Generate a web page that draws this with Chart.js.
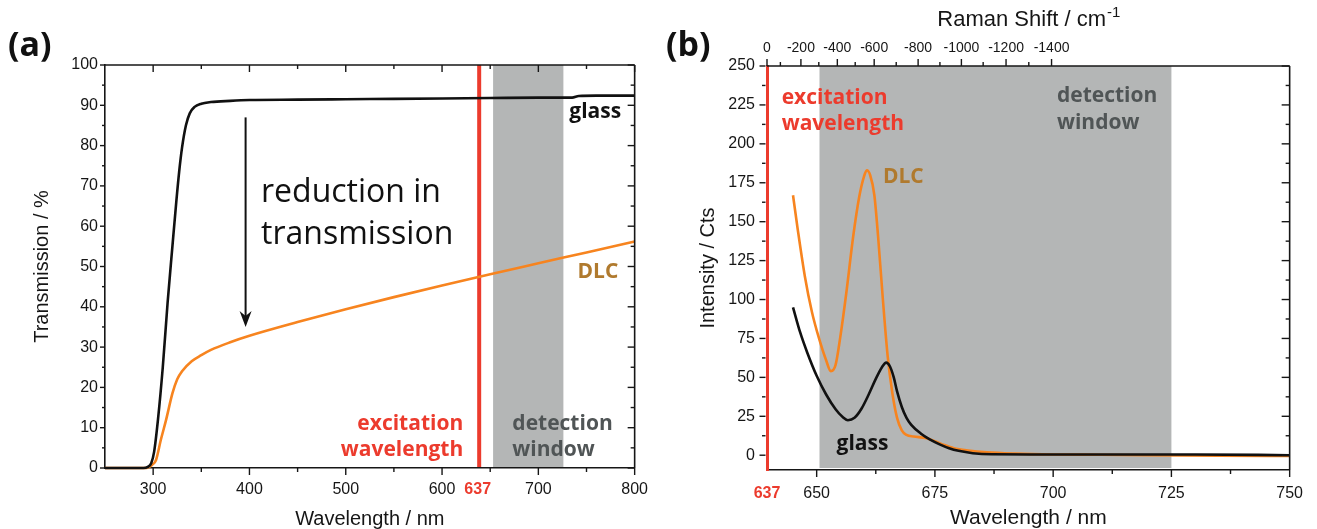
<!DOCTYPE html>
<html><head><meta charset="utf-8">
<script src="https://cdn.jsdelivr.net/npm/chart.js@4.4.1/dist/chart.umd.min.js"></script>
<style>
html,body{margin:0;padding:0;background:#fff;}
#wrap{position:relative;width:1317px;height:529px;overflow:hidden;background:#fff;}
.panel{position:absolute;top:0;height:529px;}
#pa{left:0;width:660px;}
#pb{left:660px;width:657px;}
</style></head><body>
<div id="wrap"><div class="panel" id="pa"><canvas id="ca"></canvas></div><div class="panel" id="pb"><canvas id="cb"></canvas></div></div>
<script>
// ---------- Panel (a): transmission spectra ----------
const aGlassWl = [250, 290, 294, 298, 301, 305, 310, 315, 320, 324, 327, 330, 334, 338, 343, 350, 360, 380, 400, 450, 500, 550, 600, 650, 700, 735, 742, 760, 800];
const aGlassT  = [0, 0, 0.2, 1.2, 4, 12, 25, 41, 55, 66, 73.5, 79.5, 85, 88, 89.6, 90.4, 90.8, 91.1, 91.3, 91.4, 91.5, 91.6, 91.7, 91.8, 91.9, 91.9, 92.3, 92.4, 92.4];
const aDlcWl   = [250, 292, 295, 299, 303, 308, 313.5, 320, 325, 330, 340, 350, 360, 380, 400, 450, 500, 550, 600, 650, 700, 750, 800];
const aDlcT    = [0, 0, 0.2, 0.8, 2, 7, 12, 18.5, 22, 24, 26.5, 28, 29.3, 31.2, 32.8, 36.2, 39.4, 42.4, 45.3, 48.1, 50.8, 53.5, 56.2];
const aXTicks  = [300, 400, 500, 600, 637, 700, 800];
const aXMinor  = [350, 450, 550, 650, 750];
const aYTicks  = [0, 10, 20, 30, 40, 50, 60, 70, 80, 90, 100];
const aYMinor  = [5, 15, 25, 35, 45, 55, 65, 75, 85, 95];
const aExcitation = 637;
const aWindow = [653, 726];

// ---------- Panel (b): Raman spectra ----------
const bGlassWl = [645, 646.5, 648, 650, 652, 654, 655.5, 656.6, 658, 659.5, 661, 662.5, 663.8, 664.7, 665.5, 666.3, 667, 668, 669, 670, 672, 674, 676, 678, 680, 683, 687, 695, 710, 730, 750];
const bGlassI  = [95, 79, 66, 51, 39, 29.5, 24.5, 22.5, 24, 30, 39, 49, 56.5, 59.5, 57, 50, 41, 31, 24, 19.5, 14, 10, 7, 4.5, 2.8, 1.3, 0.6, 0.5, 0.5, 0.5, 0];
const bDlcWl   = [645, 646, 647.5, 649, 650.5, 652, 653, 654, 655, 656.3, 657.7, 659, 660, 660.6, 661.3, 662.2, 663, 664, 665, 666, 667, 668, 669, 670.5, 673, 675, 677, 679, 682, 686, 692, 700, 710, 720, 735, 750];
const bDlcI    = [167, 145, 115, 92, 75, 61, 54, 58, 76, 105, 140, 166, 179, 183, 180, 167, 140, 100, 64, 40, 24, 16, 13, 12, 11, 9, 6.5, 4.5, 3, 1.8, 1.0, 0.5, 0.3, 0, -0.3, -0.5];
const bXTickValues = [639.5, 650, 675, 700, 725, 750];
const bXTickLabels = ['637', '650', '675', '700', '725', '750'];
const bXMinor  = [662.5, 687.5, 712.5, 737.5];
const bYTicks  = [0, 25, 50, 75, 100, 125, 150, 175, 200, 225, 250];
const bYMinor  = [12.5, 37.5, 62.5, 87.5, 112.5, 137.5, 162.5, 187.5, 212.5, 237.5];
const ramanLabels = ['0', '-200', '-400', '-600', '-800', '-1000', '-1200', '-1400'];
const ramanLabelWl = [639.5, 646.67, 654.37, 662.16, 671.45, 680.6, 690.04, 699.66];
const ramanMinorWl = [642.33, 650.45, 658.15, 666.82, 676.06, 685.2, 694.85];
const bWindow = [650.6, 725];

// ---------- styling ----------
const FT = "'Liberation Sans', Arial, Helvetica, sans-serif";
const FA = "'Open Sans', 'Noto Sans', sans-serif";
const RED = '#ec3b2d';
const BAND = '#b4b6b6';
const ORANGE = '#f7841f';
const DLC_TXT = '#b07a2e';
const DET_TXT = '#505556';
const INK = '#161616';

function seg(ctx, x1, y1, x2, y2) { ctx.beginPath(); ctx.moveTo(x1, y1); ctx.lineTo(x2, y2); ctx.stroke(); }
function xt(ctx, sc, vals, y, len) { vals.forEach(v => { const p = sc.getPixelForValue(v); seg(ctx, p, y, p, y + len); }); }
function yt(ctx, sc, vals, x, len) { vals.forEach(v => { const p = sc.getPixelForValue(v); seg(ctx, x, p, x + len, p); }); }
function txt(ctx, s, x, y, font, color, align) {
  ctx.font = font; ctx.fillStyle = color; ctx.textAlign = align || 'left'; ctx.textBaseline = 'middle';
  ctx.fillText(s, x, y);
}
function pts(xs, ys) { return xs.map((x, i) => ({ x: x, y: ys[i] })); }

const commonDs = { pointRadius: 0, borderWidth: 2.6, fill: false, cubicInterpolationMode: 'monotone', clip: 3 };

// ---------- Chart (a) ----------
const plugA = {
  id: 'plugA',
  beforeDraw(chart) {
    const { ctx, chartArea: a, scales: { x, y } } = chart;
    ctx.save();
    ctx.fillStyle = BAND;
    const x1 = x.getPixelForValue(aWindow[0]), x2 = x.getPixelForValue(aWindow[1]);
    ctx.fillRect(x1, a.top, x2 - x1, a.bottom - a.top);
    ctx.strokeStyle = RED; ctx.lineWidth = 4;
    const xe = x.getPixelForValue(aExcitation) + 1.5;
    seg(ctx, xe, a.top, xe, a.bottom);
    ctx.restore();
  },
  afterDraw(chart) {
    const { ctx, chartArea: a, scales: { x, y } } = chart;
    ctx.save();
    ctx.strokeStyle = INK; ctx.lineWidth = 1.6;
    seg(ctx, a.left, a.top, a.right, a.top);
    seg(ctx, a.right, a.top, a.right, a.bottom);
    ctx.lineWidth = 1.4;
    const major = aXTicks.filter(v => v !== 637);
    xt(ctx, x, major, a.bottom, 7); xt(ctx, x, aXMinor, a.bottom, 4);
    xt(ctx, x, major, a.top, 7); xt(ctx, x, aXMinor, a.top, 4);
    yt(ctx, y, aYTicks, a.left, -5); yt(ctx, y, aYMinor, a.left, -3);
    yt(ctx, y, aYTicks, a.right, -7); yt(ctx, y, aYMinor, a.right, -4);
    // arrow
    const ax = x.getPixelForValue(396), ay1 = y.getPixelForValue(87), ay2 = y.getPixelForValue(35);
    ctx.lineWidth = 2; ctx.strokeStyle = '#111';
    seg(ctx, ax, ay1, ax, ay2 - 8);
    ctx.fillStyle = '#111';
    ctx.beginPath(); ctx.moveTo(ax, ay2); ctx.lineTo(ax - 6, ay2 - 16); ctx.lineTo(ax, ay2 - 11); ctx.lineTo(ax + 6, ay2 - 16); ctx.closePath(); ctx.fill();
    // texts
    const fb = "bold 21px " + FA;
    txt(ctx, 'reduction in', x.getPixelForValue(412), y.getPixelForValue(68.3), "32px " + FA, '#111');
    txt(ctx, 'transmission', x.getPixelForValue(412), y.getPixelForValue(57.8), "32px " + FA, '#111');
    txt(ctx, 'glass', x.getPixelForValue(786), y.getPixelForValue(88.3), fb, '#111', 'right');
    txt(ctx, 'DLC', x.getPixelForValue(783), y.getPixelForValue(48.6), fb, DLC_TXT, 'right');
    txt(ctx, 'excitation', x.getPixelForValue(622), y.getPixelForValue(10.9), fb, RED, 'right');
    txt(ctx, 'wavelength', x.getPixelForValue(622), y.getPixelForValue(4.4), fb, RED, 'right');
    txt(ctx, 'detection', x.getPixelForValue(673), y.getPixelForValue(10.9), fb, DET_TXT, 'left');
    txt(ctx, 'window', x.getPixelForValue(673), y.getPixelForValue(4.4), fb, DET_TXT, 'left');
    ctx.textBaseline = 'alphabetic'; ctx.textAlign = 'left';
    ctx.font = "bold 34px " + FA; ctx.fillStyle = '#111';
    ctx.fillText('(a)', 8, 56);
    ctx.restore();
  }
};

new Chart(document.getElementById('ca'), {
  type: 'line',
  data: { datasets: [
    Object.assign({ label: 'glass', data: pts(aGlassWl, aGlassT), borderColor: '#111' }, commonDs),
    Object.assign({ label: 'DLC', data: pts(aDlcWl, aDlcT), borderColor: ORANGE }, commonDs)
  ] },
  options: {
    responsive: true, maintainAspectRatio: false, animation: false,
    layout: { padding: { left: 32, right: 21, top: 65, bottom: 0 } },
    plugins: { legend: { display: false }, tooltip: { enabled: false } },
    scales: {
      x: {
        type: 'linear', min: 250, max: 800,
        afterBuildTicks: s => { s.ticks = aXTicks.map(v => ({ value: v })); },
        afterFit: s => { s.height = 61; },
        grid: { display: false, drawTicks: false },
        border: { display: true, color: INK, width: 1.6 },
        ticks: {
          autoSkip: false, maxRotation: 0, padding: 12,
          color: c => c.tick && c.tick.value === 637 ? RED : INK,
          font: c => ({ family: FT, size: 16, weight: (c.tick && c.tick.value === 637) ? 'bold' : 'normal' })
        },
        title: { display: true, text: 'Wavelength / nm', color: INK, font: { family: FT, size: 20, lineHeight: 1 }, padding: { top: 0, bottom: 0 } }
      },
      y: {
        type: 'linear', min: 0, max: 100,
        afterBuildTicks: s => { s.ticks = aYTicks.map(v => ({ value: v })); },
        afterFit: s => { s.width = 73; },
        grid: { display: false, drawTicks: false },
        border: { display: true, color: INK, width: 1.6 },
        ticks: { padding: 7, color: INK, font: { family: FT, size: 16 } },
        title: { display: true, text: 'Transmission / %', color: INK, font: { family: FT, size: 20, lineHeight: 1 }, padding: { top: 0, bottom: 0 } }
      }
    }
  },
  plugins: [plugA]
});

// ---------- Chart (b) ----------
const plugB = {
  id: 'plugB',
  beforeDraw(chart) {
    const { ctx, chartArea: a, scales: { x, y } } = chart;
    ctx.save();
    ctx.fillStyle = BAND;
    const x1 = x.getPixelForValue(bWindow[0]), x2 = x.getPixelForValue(bWindow[1]);
    ctx.fillRect(x1, a.top, x2 - x1, a.bottom - a.top - 2);
    ctx.restore();
  },
  afterDraw(chart) {
    const { ctx, chartArea: a, scales: { x, y } } = chart;
    ctx.save();
    ctx.strokeStyle = INK; ctx.lineWidth = 1.6;
    seg(ctx, a.left, a.top, a.right, a.top);
    seg(ctx, a.right, a.top, a.right, a.bottom);
    ctx.lineWidth = 1.4;
    const major = bXTickValues.slice(1);
    xt(ctx, x, major, a.bottom, 7); xt(ctx, x, bXMinor, a.bottom, 4);
    yt(ctx, y, bYTicks, a.left - 1.5, -6); yt(ctx, y, bYMinor, a.left - 1.5, -3.5);
    yt(ctx, y, bYTicks, a.right, -8); yt(ctx, y, bYMinor, a.right, -4);
    // Raman shift axis on top
    xt(ctx, x, ramanLabelWl, a.top, -7); xt(ctx, x, ramanMinorWl, a.top, -4);
    ramanLabels.forEach((s, i) => {
      txt(ctx, s, x.getPixelForValue(ramanLabelWl[i]), a.top - 18, "14px " + FT, INK, 'center');
    });
    // title with superscript
    const cx = (a.left + a.right) / 2;
    const main = 'Raman Shift / cm';
    ctx.font = "15px " + FT; const wSup = ctx.measureText('-1').width;
    ctx.font = "22px " + FT; const wMain = ctx.measureText(main).width;
    const sx = cx - (wMain + wSup) / 2;
    txt(ctx, main, sx, 20, "22px " + FT, INK, 'left');
    txt(ctx, '-1', sx + wMain + 1, 13, "15px " + FT, INK, 'left');
    // annotations
    const fb = "bold 21px " + FA;
    txt(ctx, 'excitation', x.getPixelForValue(642.6), y.getPixelForValue(229.5), fb, RED, 'left');
    txt(ctx, 'wavelength', x.getPixelForValue(642.6), y.getPixelForValue(213), fb, RED, 'left');
    txt(ctx, 'detection', x.getPixelForValue(700.8), y.getPixelForValue(231), fb, DET_TXT, 'left');
    txt(ctx, 'window', x.getPixelForValue(700.8), y.getPixelForValue(213.5), fb, DET_TXT, 'left');
    txt(ctx, 'DLC', x.getPixelForValue(664), y.getPixelForValue(178.5), fb, DLC_TXT, 'left');
    txt(ctx, 'glass', x.getPixelForValue(654.2), y.getPixelForValue(7.5), fb, '#111', 'left');
    ctx.textBaseline = 'alphabetic'; ctx.textAlign = 'left';
    ctx.font = "bold 34px " + FA; ctx.fillStyle = '#111';
    ctx.fillText('(b)', 6, 56);
    ctx.restore();
  }
};

new Chart(document.getElementById('cb'), {
  type: 'line',
  data: { datasets: [
    Object.assign({ label: 'glass', data: pts(bGlassWl, bGlassI), borderColor: '#111' }, commonDs),
    Object.assign({ label: 'DLC', data: pts(bDlcWl, bDlcI), borderColor: ORANGE }, commonDs)
  ] },
  options: {
    responsive: true, maintainAspectRatio: false, animation: false,
    layout: { padding: { left: 38, right: 15, top: 66, bottom: 0 } },
    plugins: { legend: { display: false }, tooltip: { enabled: false } },
    scales: {
      x: {
        type: 'linear', min: bXTickValues[0], max: 750,
        afterBuildTicks: s => { s.ticks = bXTickValues.map(v => ({ value: v })); },
        afterFit: s => { s.height = 59; },
        grid: { display: false, drawTicks: false },
        border: { display: true, color: INK, width: 1.6 },
        ticks: {
          autoSkip: false, maxRotation: 0, padding: 14,
          callback: (v, i) => bXTickLabels[i],
          color: c => c.index === 0 ? RED : INK,
          font: c => ({ family: FT, size: 16, weight: c.index === 0 ? 'bold' : 'normal' })
        },
        title: { display: true, text: 'Wavelength / nm', color: INK, font: { family: FT, size: 21, lineHeight: 1 }, padding: { top: 0, bottom: 0 } }
      },
      y: {
        type: 'linear', min: -9.5, max: 250,
        afterBuildTicks: s => { s.ticks = bYTicks.map(v => ({ value: v })); },
        afterFit: s => { s.width = 69; },
        grid: { display: false, drawTicks: false },
        border: { display: true, color: RED, width: 3 },
        ticks: { padding: 12, color: INK, font: { family: FT, size: 16 } },
        title: { display: true, text: 'Intensity / Cts', color: INK, font: { family: FT, size: 20, lineHeight: 1 }, padding: { top: 0, bottom: 0 } }
      }
    }
  },
  plugins: [plugB]
});
</script>
</body></html>
